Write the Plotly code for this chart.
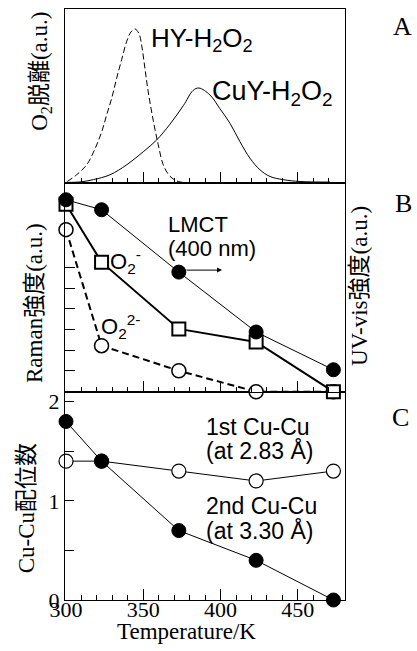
import plotly.graph_objects as go

# ---------------- data ----------------
temp = [300, 323, 373, 423, 473]

# Panel A: O2 desorption profiles (a.u.)
hy_T = [300.8, 306.9, 313.4, 318.8, 323.1, 326.3, 329.6, 332.8, 336.0, 339.3, 342.0,
        344.6, 347.2, 349.0, 351.1, 353.2, 356.5, 359.7, 362.9, 367.3, 372.6, 378.0]
hy_I = [0.006, 0.05, 0.115, 0.22, 0.33, 0.44, 0.55, 0.68, 0.80, 0.92, 0.98,
        1.0, 0.97, 0.89, 0.74, 0.59, 0.40, 0.245, 0.115, 0.04, 0.006, 0.0]
cuy_T = [300, 309, 317.7, 328.5, 339.3, 350.0, 358.7, 367.3, 375.9, 382.3, 386.0,
         393.1, 399.6, 406.1, 412.5, 419.0, 425.5, 431.9, 440.5, 451.4, 470.8]
cuy_I = [0.0, 0.003, 0.018, 0.05, 0.115, 0.20, 0.277, 0.38, 0.50, 0.60, 0.615,
         0.57, 0.48, 0.385, 0.266, 0.158, 0.082, 0.039, 0.018, 0.006, 0.002]

# Panel B: Raman / UV-vis intensities (a.u.)
o2_minus = [9.04, 6.25, 3.03, 2.40, 0.0]
o2_2minus = [7.82, 2.22, 1.01, 0.0, 0.0]
lmct = [9.26, 8.78, 5.77, 2.88, 1.06]

# Panel C: Cu-Cu coordination numbers
cucu_1st = [1.4, 1.4, 1.3, 1.2, 1.3]
cucu_2nd = [1.8, 1.4, 0.7, 0.4, 0.0]

# ---------------- layout helpers ----------------
W, H = 417, 651
L, R, T, B = 65, 345, 7, 600


def px(x):
    return (x - L) / (R - L)


def py(y):
    return (B - y) / (B - T)


dC = [0, py(391)]
dB = [py(391), py(182)]
dA = [py(182), 1]

SERIF = "Liberation Serif, Times New Roman, Noto Sans CJK JP, serif"
SANS = "Liberation Sans, Arial, sans-serif"

fig = go.Figure()

# Panel A
fig.add_trace(go.Scatter(x=hy_T, y=hy_I, xaxis="x3", yaxis="y3", mode="lines",
                         line=dict(color="black", width=1, dash="6px,3px", shape="spline"),
                         showlegend=False))
fig.add_trace(go.Scatter(x=cuy_T, y=cuy_I, xaxis="x3", yaxis="y3", mode="lines",
                         line=dict(color="black", width=1, shape="spline"),
                         showlegend=False))

# Panel B
fig.add_trace(go.Scatter(x=temp, y=lmct, xaxis="x2", yaxis="y4", mode="lines+markers",
                         line=dict(color="black", width=1),
                         marker=dict(symbol="circle", size=14, color="black",
                                     line=dict(color="black", width=1)),
                         cliponaxis=False, showlegend=False))
fig.add_trace(go.Scatter(x=temp, y=o2_2minus, xaxis="x2", yaxis="y2", mode="lines+markers",
                         line=dict(color="black", width=2, dash="7px,4px"),
                         marker=dict(symbol="circle", size=14, color="white",
                                     line=dict(color="black", width=1.5)),
                         cliponaxis=False, showlegend=False))
fig.add_trace(go.Scatter(x=temp, y=o2_minus, xaxis="x2", yaxis="y2", mode="lines+markers",
                         line=dict(color="black", width=2),
                         marker=dict(symbol="square", size=13, color="white",
                                     line=dict(color="black", width=2)),
                         cliponaxis=False, showlegend=False))

# Panel C
fig.add_trace(go.Scatter(x=temp, y=cucu_1st, xaxis="x", yaxis="y", mode="lines+markers",
                         line=dict(color="black", width=1),
                         marker=dict(symbol="circle", size=14, color="white",
                                     line=dict(color="black", width=1.2)),
                         cliponaxis=False, showlegend=False))
fig.add_trace(go.Scatter(x=temp, y=cucu_2nd, xaxis="x", yaxis="y", mode="lines+markers",
                         line=dict(color="black", width=1),
                         marker=dict(symbol="circle", size=14, color="black",
                                     line=dict(color="black", width=1)),
                         cliponaxis=False, showlegend=False))

xrange = [299.35, 480.5]
xcommon = dict(range=xrange, showline=True, linecolor="black", linewidth=1, mirror=True,
               ticks="inside", tick0=300, dtick=50, ticklen=11, tickcolor="black",
               minor=dict(ticks="inside", tick0=300, dtick=10, ticklen=5, tickcolor="black"),
               showgrid=False, zeroline=False)

fig.update_layout(
    width=W, height=H,
    margin=dict(l=L, r=W - R, t=T, b=H - B),
    paper_bgcolor="white", plot_bgcolor="white",
    font=dict(family=SERIF, color="black", size=22),
    xaxis=dict(**xcommon, anchor="y", ticklabelstandoff=-10,
               tickfont=dict(family=SERIF, size=22, color="black")),
    xaxis2=dict(**xcommon, anchor="y2", matches="x", showticklabels=False),
    xaxis3=dict(**xcommon, anchor="y3", matches="x", showticklabels=False),
    yaxis=dict(domain=dC, range=[0, 2.1], anchor="x", showline=True, linecolor="black",
               linewidth=1, mirror=True, ticks="inside", ticklen=9, tickcolor="black",
               tickvals=[0, 0.5, 1, 1.5, 2], ticktext=["0", "", "1", "", "2"],
               tickfont=dict(family=SERIF, size=22, color="black"),
               showgrid=False, zeroline=False),
    yaxis2=dict(domain=dB, range=[0, 10.05], anchor="x2", showline=True, linecolor="black",
                linewidth=1, mirror=True, ticks="inside", ticklen=10, tickcolor="black",
                tickvals=[1, 2, 3, 4, 5, 6], showticklabels=False,
                showgrid=False, zeroline=False),
    yaxis4=dict(range=[0, 10.05], overlaying="y2", side="right", anchor="x2",
                showticklabels=False, ticks="", showgrid=False, zeroline=False),
    yaxis3=dict(domain=dA, range=[-0.0065, 1.13], anchor="x3", showline=True,
                linecolor="black", linewidth=1, mirror=True, ticks="",
                showticklabels=False, showgrid=False, zeroline=False),
)

ann = []


def add_text(text, x, y, size=22, family=SANS, xanchor="left", yanchor="middle", angle=0):
    ann.append(dict(text=text, x=px(x), y=py(y), xref="paper", yref="paper",
                    xanchor=xanchor, yanchor=yanchor, showarrow=False, textangle=angle,
                    font=dict(family=family, size=size, color="black")))


# Panel A labels
add_text("HY-H<sub>2</sub>O<sub>2</sub>", 149, 38, size=26)
add_text("CuY-H<sub>2</sub>O<sub>2</sub>", 210, 91, size=27)
# Panel B labels
add_text("LMCT", 166, 223)
add_text("(400 nm)", 166, 247)
add_text("O<sub>2</sub><sup>-</sup>", 108, 260)
add_text("O<sub>2</sub><sup>2-</sup>", 99, 326)
# Panel C labels
add_text("1st Cu-Cu", 204, 426, size=23)
add_text("(at 2.83 Å)", 204, 450, size=23)
add_text("2nd Cu-Cu", 204, 506, size=23)
add_text("(at 3.30 Å)", 204, 530, size=23)
# Panel letters
add_text("A", 402, 25, size=26, family=SERIF, xanchor="center")
add_text("B", 403, 202, size=26, family=SERIF, xanchor="center")
add_text("C", 400, 417, size=26, family=SERIF, xanchor="center")
# Axis titles
add_text("O<sub>2</sub>脱離(a.u.)", 41, 70, size=23, family=SERIF, xanchor="center", angle=-90)
add_text("Raman強度(a.u.)", 34, 302, size=23, family=SERIF, xanchor="center", angle=-90)
add_text("Cu-Cu配位数", 26, 508, size=23, family=SERIF, xanchor="center", angle=-90)
add_text("UV-vis強度(a.u.)", 359, 285, size=23, family=SERIF, xanchor="center", angle=-90)
add_text("Temperature/K", 186, 632, size=23, family=SERIF, xanchor="center")

# LMCT arrow -> right axis
ann.append(dict(text="", x=px(222), y=py(269), xref="paper", yref="paper",
                ax=-37, ay=0, axref="pixel", ayref="pixel", showarrow=True,
                arrowhead=2, arrowsize=1, arrowwidth=1, arrowcolor="black"))

fig.update_layout(annotations=ann)

fig.write_html("out.html", config={"displayModeBar": False},
               post_script="document.body.style.margin='0px';document.body.style.padding='0px';")
